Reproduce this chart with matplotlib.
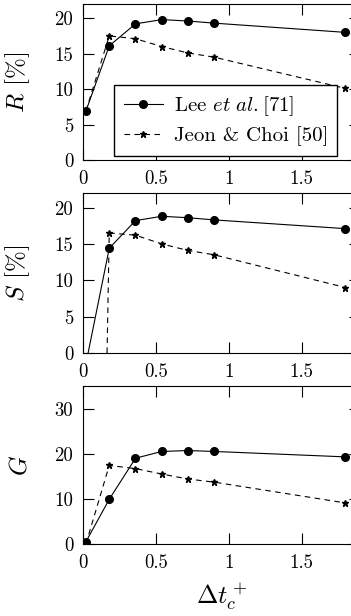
import matplotlib
matplotlib.use('Agg')
import matplotlib.pyplot as plt
from matplotlib.ticker import FuncFormatter

plt.rcParams['font.family'] = 'serif'
plt.rcParams['font.serif'] = ['cmr10']
plt.rcParams['mathtext.fontset'] = 'cm'
plt.rcParams['axes.formatter.use_mathtext'] = True

# data
dt = [0.02, 0.18, 0.36, 0.54, 0.72, 0.9, 1.8]
R_lee = [6.9, 16.1, 19.2, 19.8, 19.6, 19.3, 18.0]
R_jeon = [6.9, 17.5, 17.1, 16.0, 15.1, 14.5, 10.1]

dt_S_lee = [0.035, 0.18, 0.36, 0.54, 0.72, 0.9, 1.8]
S_lee = [0.0, 14.4, 18.2, 18.8, 18.6, 18.3, 17.1]
dt_S_jeon = [0.165, 0.18, 0.36, 0.54, 0.72, 0.9, 1.8]
S_jeon = [0.0, 16.5, 16.2, 15.0, 14.1, 13.5, 9.0]

G_lee = [0.5, 9.9, 19.0, 20.5, 20.7, 20.5, 19.3]
G_jeon = [0.0, 17.4, 16.7, 15.5, 14.4, 13.7, 9.1]

lee_label = r'Lee $\mathit{et\ al.}$[71]'
jeon_label = r'Jeon & Choi [50]'

fig = plt.figure(figsize=(3.51, 6.16), dpi=100)
W = 351.0
H = 616.0
left = 83 / W
width = 277 / W
# (top px, bottom px) for each panel
boxes = [(4, 160), (193, 353), (386, 544)]
axs = [fig.add_axes([left, 1 - b / H, width, (b - t) / H]) for t, b in boxes]

lee_style = dict(color='black', lw=0.8, marker='o', markersize=5.5)
jeon_style = dict(color='black', lw=0.8, linestyle=(0, (5, 4)), marker='*', markersize=4.5)

ax = axs[0]
ax.plot(dt, R_lee, label=lee_label, **lee_style)
ax.plot(dt, R_jeon, label=jeon_label, **jeon_style)
ax.set_ylim(0, 22)
ax.set_yticks([0, 5, 10, 15, 20])
ax.set_ylabel(r'$R$ [%]', fontsize=18)
ax.legend(loc='lower left', bbox_to_anchor=(0.105, 0.015), fontsize=15,
          fancybox=False, edgecolor='black', framealpha=1, handlelength=1.9,
          handletextpad=0.5, borderpad=0.45, labelspacing=0.4,
          borderaxespad=0.1)

ax = axs[1]
ax.plot(dt_S_lee, S_lee, markevery=slice(1, None), **lee_style)
ax.plot(dt_S_jeon, S_jeon, markevery=slice(1, None), **jeon_style)
ax.set_ylim(0, 22)
ax.set_yticks([0, 5, 10, 15, 20])
ax.set_ylabel(r'$S$ [%]', fontsize=18)

ax = axs[2]
ax.plot(dt, G_lee, **lee_style)
ax.plot(dt, G_jeon, **jeon_style)
ax.set_ylim(0, 35)
ax.set_yticks([0, 10, 20, 30])
ax.set_ylabel(r'$G$', fontsize=18)
ax.set_xlabel(r'$\Delta t_c^+$', fontsize=18.5, labelpad=6)

fmt = FuncFormatter(lambda v, p: '%g' % v)
for ax in axs:
    ax.set_xlim(0, 1.9)
    ax.set_xticks([0, 0.5, 1, 1.5])
    ax.xaxis.set_major_formatter(fmt)
    ax.yaxis.set_major_formatter(fmt)
    ax.tick_params(direction='in', length=8, width=0.8, top=True, right=True,
                   labelsize=13.5, pad=7)
    ax.yaxis.set_label_coords(-0.185, 0.5)
    for s in ax.spines.values():
        s.set_linewidth(0.8)

plt.savefig('out.png', dpi=100)
